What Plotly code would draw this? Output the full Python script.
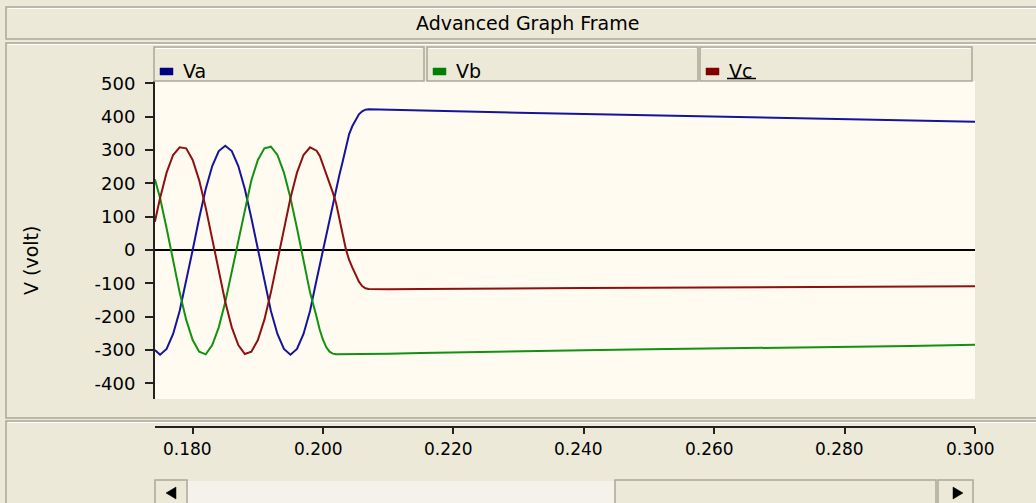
import plotly.graph_objects as go

# ---------------- data ----------------
t = [0.1742, 0.175, 0.176, 0.177, 0.178, 0.179, 0.180, 0.181, 0.182, 0.183,
     0.184, 0.185, 0.186, 0.187, 0.188, 0.189, 0.190, 0.191, 0.192, 0.193,
     0.194, 0.195, 0.196, 0.197, 0.198, 0.199, 0.1995, 0.2000, 0.2005, 0.2010,
     0.2015, 0.2020, 0.2025, 0.2030, 0.2035, 0.2040, 0.2045, 0.2050, 0.2055,
     0.2060, 0.2065, 0.2070, 0.210, 0.215, 0.220, 0.230, 0.240, 0.250, 0.260,
     0.270, 0.280, 0.290, 0.300]

va = [-300, -314, -297, -252, -183, -96, 0, 96, 183, 252,
      297, 313, 297, 252, 183, 96, 0, -96, -183, -252,
      -297, -314, -297, -252, -183, -90, -45, 0, 49, 96,
      142, 185, 225, 265, 312, 348, 372, 392, 407,
      416, 421, 422, 421, 419, 416, 412, 408, 404, 400,
      396, 392, 389, 385]

vb = [212, 156, 65, -33, -127, -209, -270, -305, -313, -285,
      -232, -156, -65, 33, 127, 209, 270, 305, 310, 285,
      232, 156, 65, -33, -127, -200, -240, -270, -292, -305,
      -311, -313, -313, -313, -313, -313, -313, -313, -313,
      -313, -313, -313, -311, -309, -307, -304, -301, -298, -296,
      -293, -291, -288, -284]

vc = [85, 156, 232, 285, 308, 305, 270, 209, 127, 33,
      -65, -156, -232, -285, -312, -305, -270, -209, -127, -33,
      65, 156, 232, 285, 308, 298, 282, 255, 228, 200,
      172, 140, 90, 48, 2, -30, -53, -75, -95,
      -108, -115, -117, -118, -117, -116, -115, -114, -113, -112,
      -111, -110, -110, -109]

series_names = ["Va", "Vb", "Vc"]
series_colors = ["#14149c", "#119211", "#8e1010"]
legend_swatch = ["#000080", "#008000", "#800000"]

x_ticks = [0.18, 0.20, 0.22, 0.24, 0.26, 0.28, 0.30]
x_tick_text = ["0.180", "0.200", "0.220", "0.240", "0.260", "0.280", "0.300"]
y_ticks = [-400, -300, -200, -100, 0, 100, 200, 300, 400, 500]
y_tick_text = [str(v) for v in y_ticks]

title_text = "Advanced Graph Frame"
y_title = "V (volt)"

# ---------------- layout geometry ----------------
W, H = 1036, 503
L, R, T, B = 155, 61, 81, 76
PW = W - L - R
PH = H - T - B
BOTTOM = H - B


def X(px):
    return (px - L) / PW


def Y(py):
    return (BOTTOM - py) / PH


BG = "#ECE9D8"
BORDER = "#ACA899"
FONT = "DejaVu Sans"

fig = go.Figure()
for name, vals, col in zip(series_names, [va, vb, vc], series_colors):
    fig.add_trace(go.Scatter(x=t, y=vals, mode="lines", name=name,
                             line=dict(color=col, width=2), showlegend=False))

shapes = []
annotations = []


def rect(x0, y0, x1, y1, fill=BG, line=BORDER, lw=1, layer="above"):
    shapes.append(dict(type="rect", xref="paper", yref="paper",
                       x0=X(x0), x1=X(x1), y0=Y(y1), y1=Y(y0),
                       fillcolor=fill, line=dict(color=line, width=lw), layer=layer))


def hline(x0, x1, y, color, lw=1):
    shapes.append(dict(type="line", xref="paper", yref="paper",
                       x0=X(x0), x1=X(x1), y0=Y(y), y1=Y(y),
                       line=dict(color=color, width=lw)))


# title bar
rect(6, 7, 1045, 39, fill=BG, line=BORDER, lw=1.5)
hline(8, 1045, 8.5, "#FFFFFF", 1)
# main panel frame
rect(6, 43, 1045, 418, fill="rgba(0,0,0,0)", line=BORDER, lw=1.5)
hline(8, 1045, 44.5, "#FFFFFF", 1)
# bottom panel frame
rect(6, 421, 1045, 520, fill="rgba(0,0,0,0)", line=BORDER, lw=1.5)
hline(8, 1045, 422.5, "#FFFFFF", 1)

# legend boxes
legend_boxes = [(154, 424), (427, 698), (700, 972)]
for (bx0, bx1), name, sw in zip(legend_boxes, series_names, legend_swatch):
    rect(bx0, 47, bx1, 81, fill=BG, line=BORDER, lw=1.5)
    hline(bx0 + 2, bx1 - 2, 48.5, "#FFFFFF", 1)
    rect(bx0 + 6, 68, bx0 + 19, 75, fill=sw, line=sw, lw=0.5)
    annotations.append(dict(text=name, xref="paper", yref="paper",
                            x=X(bx0 + 27), y=Y(71.5), xanchor="left", yanchor="middle",
                            showarrow=False, font=dict(family=FONT, size=19, color="#000")))
# focus underline under Vc
hline(727, 756, 78.5, "#000000", 1.5)

# scrollbar
rect(187, 481, 615, 520, fill="#F4F2EA", line="#F4F2EA", lw=0)
rect(155, 480, 187, 520, fill=BG, line=BORDER, lw=1.5)
rect(615, 480, 936, 520, fill=BG, line=BORDER, lw=1.5)
rect(938, 480, 973, 520, fill=BG, line=BORDER, lw=1.5)
shapes.append(dict(type="path", xref="paper", yref="paper",
                   path=f"M {X(166)},{Y(493)} L {X(176)},{Y(487)} L {X(176)},{Y(499)} Z",
                   fillcolor="#000", line=dict(color="#000", width=0.5)))
shapes.append(dict(type="path", xref="paper", yref="paper",
                   path=f"M {X(963)},{Y(493)} L {X(953)},{Y(487)} L {X(953)},{Y(499)} Z",
                   fillcolor="#000", line=dict(color="#000", width=0.5)))

# x tick labels (drawn slightly left of their ticks, as in the reference)
for tv, tt in zip(x_ticks, x_tick_text):
    annotations.append(dict(text=tt, xref="x", yref="paper", x=tv, y=Y(449),
                            xanchor="center", yanchor="middle", xshift=-5,
                            showarrow=False, font=dict(family=FONT, size=17, color="#000")))

# title and y title
annotations.append(dict(text=title_text, xref="paper", yref="paper",
                        x=X(527), y=Y(23), xanchor="center", yanchor="middle",
                        showarrow=False, font=dict(family=FONT, size=19, color="#000")))
annotations.append(dict(text=y_title, xref="paper", yref="paper",
                        x=X(31), y=Y(261), xanchor="center", yanchor="middle",
                        textangle=-90, showarrow=False,
                        font=dict(family=FONT, size=19, color="#000")))

fig.update_layout(
    width=W, height=H,
    margin=dict(l=L, r=R, t=T, b=B, pad=0),
    paper_bgcolor=BG,
    plot_bgcolor="#FFFBF0",
    showlegend=False,
    shapes=shapes,
    annotations=annotations,
    xaxis=dict(range=[0.17422, 0.300], anchor="free", position=0,
               showline=True, linecolor="#222", linewidth=2,
               ticks="outside", ticklen=6, tickwidth=2, tickcolor="#222",
               tickvals=x_ticks, showticklabels=False,
               showgrid=False, zeroline=False, fixedrange=True),
    yaxis=dict(domain=[Y(399), 1], range=[-447, 507],
               showline=True, linecolor="#222", linewidth=2,
               ticks="outside", ticklen=8, tickwidth=2, tickcolor="#222",
               tickvals=y_ticks, ticktext=y_tick_text, ticklabelstandoff=6,
               tickfont=dict(family=FONT, size=18, color="#000"),
               showgrid=False, zeroline=True, zerolinecolor="#000", zerolinewidth=2,
               fixedrange=True),
)

fig.write_html("out.html", config={"displayModeBar": False},
               post_script="document.body.style.margin='0';document.body.style.overflow='hidden';")
